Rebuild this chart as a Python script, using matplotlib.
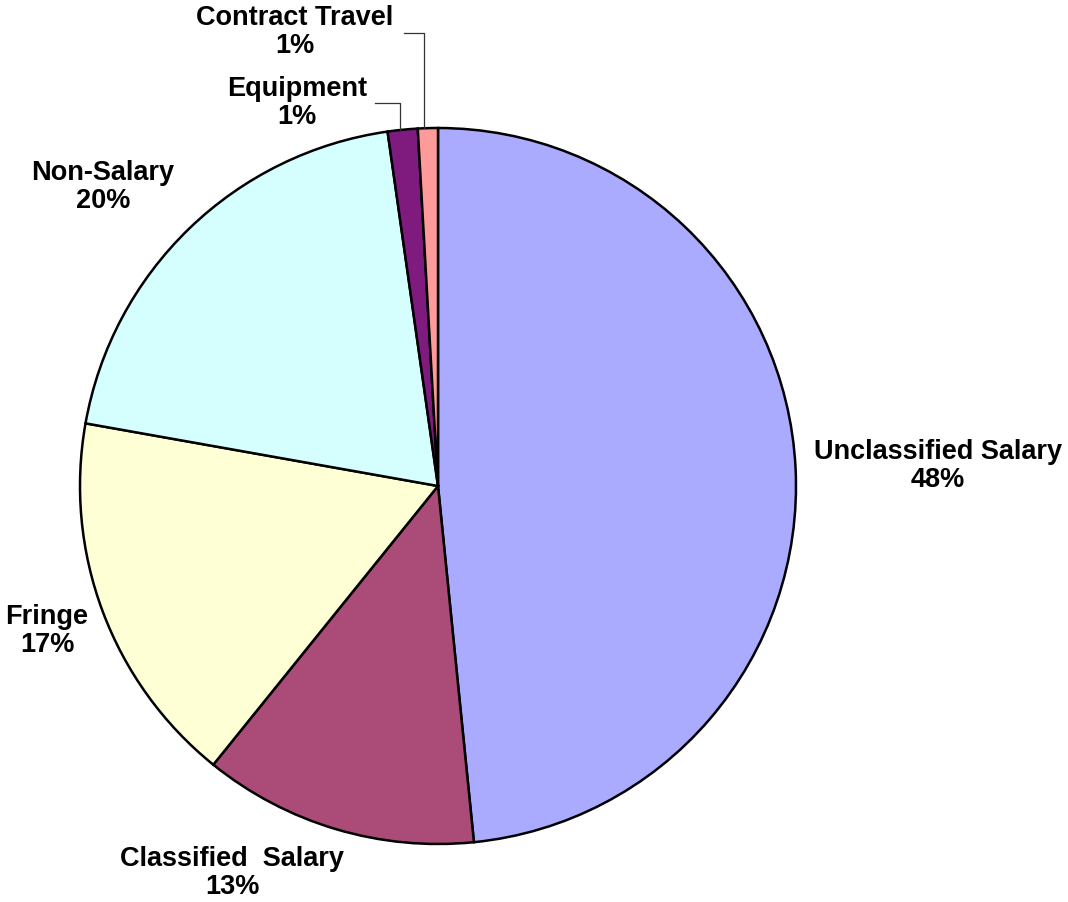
import matplotlib.pyplot as plt

categories = ["Unclassified Salary", "Classified  Salary", "Fringe", "Non-Salary",
              "Equipment", "Contract Travel"]
values = [48.4, 12.4, 17.0, 19.95, 1.35, 0.9]
pct_labels = ["48%", "13%", "17%", "20%", "1%", "1%"]
colors = ["#AAAAFF", "#AA4B78", "#FFFFD5", "#D5FFFF", "#7F1A7F", "#FF9A9A"]

plt.rcParams['font.family'] = ['Liberation Sans', 'DejaVu Sans']

fig = plt.figure(figsize=(10.68, 9.02), dpi=100)
ax = fig.add_axes([0, 0, 1, 1])

cx, cy, r = 438, 902 - 486, 358
ax.pie(values, colors=colors, startangle=90, counterclock=False,
       center=(cx, cy), radius=r, frame=True,
       wedgeprops=dict(edgecolor='black', linewidth=1.8))
ax.set_xlim(0, 1068)
ax.set_ylim(0, 902)
ax.set_aspect('equal')
ax.axis('off')

# label centres in pixel coords (y from top)
label_pos = [(938, 466), (232, 873), (47, 631), (103, 187), (297, 103), (295, 32)]
for name, pct, (x, y) in zip(categories, pct_labels, label_pos):
    ax.text(x, 902 - y, f"{name}\n{pct}", ha='center', va='center',
            fontsize=19.5, fontweight='bold', linespacing=1.1)

# leader lines for the small slices
ax.plot([375, 400, 400], [902 - 103, 902 - 103, 902 - 130], color='#333333', lw=0.9)
ax.plot([404, 424, 424], [902 - 33, 902 - 33, 902 - 128], color='#333333', lw=0.9)

fig.savefig("out.png", dpi=100)
